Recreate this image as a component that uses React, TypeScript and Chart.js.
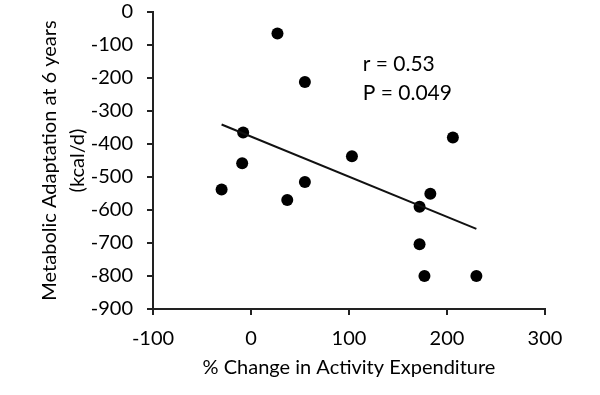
import React, { useEffect, useRef } from "react";
import { Chart, registerables } from "chart.js";

Chart.register(...registerables);

// Scatter data: % change in activity expenditure vs metabolic adaptation (kcal/d)
const pointsX = [27, 55, -8, -9, -30, 37, 55, 103, 206, 183, 172, 172, 177, 230];
const pointsY = [-65, -212, -365, -458, -538, -570, -515, -437, -380, -551, -590, -704, -800, -800];

// Regression line endpoints
const trendX = [-30, 230];
const trendY = [-341, -657];

// Axis ranges / ticks
const xTicks = [-100, 0, 100, 200, 300];
const yTicks = [0, -100, -200, -300, -400, -500, -600, -700, -800, -900];

// Annotation text
const annLabels = ["r = 0.53", "P = 0.049"];
const annX = [114, 114];
const annY = [-157, -245];

const xTitle = "% Change in Activity Expenditure";
const yTitle = ["Metabolic Adaptation at 6 years", "(kcal/d)"];

const FONT = "Lato, 'Open Sans', sans-serif";
const TEXT = "#000";

const annotationPlugin = {
  id: "annot",
  afterDatasetsDraw(chart: any) {
    const { ctx, scales } = chart;
    const x = scales.x;
    const y = scales.y;
    ctx.save();
    ctx.font = `21px ${FONT}`;
    ctx.fillStyle = TEXT;
    ctx.textAlign = "left";
    ctx.textBaseline = "middle";
    annLabels.forEach((t, i) => {
      ctx.fillText(t, x.getPixelForValue(annX[i]), y.getPixelForValue(annY[i]));
    });
    ctx.restore();
  },
};

export default function App() {
  const ref = useRef<HTMLCanvasElement | null>(null);

  useEffect(() => {
    if (!ref.current) return;
    const chart = new Chart(ref.current, {
      type: "scatter",
      data: {
        datasets: [
          {
            type: "line",
            data: trendX.map((v, i) => ({ x: v, y: trendY[i] })),
            borderColor: "#111",
            borderWidth: 2,
            pointRadius: 0,
            fill: false,
          } as any,
          {
            data: pointsX.map((v, i) => ({ x: v, y: pointsY[i] })),
            backgroundColor: "#000",
            borderColor: "#000",
            pointRadius: 6,
            borderWidth: 0,
          },
        ],
      },
      options: {
        animation: false,
        responsive: false,
        layout: { padding: { top: 0, right: 55, left: 0, bottom: 0 } },
        plugins: {
          legend: { display: false },
          tooltip: { enabled: false },
        },
        scales: {
          x: {
            type: "linear",
            min: -100,
            max: 300,
            afterFit: (s: any) => {
              s.height = 86;
            },
            afterBuildTicks: (s: any) => {
              s.ticks = xTicks.map((v) => ({ value: v }));
            },
            ticks: {
              color: TEXT,
              font: { family: FONT, size: 20 },
              padding: 12,
            },
            grid: {
              drawOnChartArea: false,
              drawTicks: true,
              tickLength: 6,
              color: "#222",
              lineWidth: 2,
            },
            border: { display: true, color: "#222", width: 2 },
            title: {
              display: true,
              text: xTitle,
              color: TEXT,
              font: { family: FONT, size: 20 },
              padding: { top: 0, bottom: 15 },
            },
          },
          y: {
            type: "linear",
            min: -900,
            max: 0,
            afterFit: (s: any) => {
              s.width = 153;
              s.paddingTop = 12;
              s.paddingBottom = 0;
            },
            afterBuildTicks: (s: any) => {
              s.ticks = yTicks.map((v) => ({ value: v }));
            },
            ticks: {
              color: TEXT,
              font: { family: FONT, size: 20 },
              padding: 14,
            },
            grid: {
              drawOnChartArea: false,
              drawTicks: true,
              tickLength: 6,
              color: "#222",
              lineWidth: 2,
            },
            border: { display: true, color: "#222", width: 2 },
            title: {
              display: true,
              text: yTitle,
              color: TEXT,
              font: { family: FONT, size: 20, lineHeight: 1.4 },
              padding: { top: 36, bottom: 0 },
            },
          },
        },
      },
      plugins: [annotationPlugin],
    });
    return () => chart.destroy();
  }, []);

  return (
    <div style={{ position: "fixed", left: 0, top: 0, width: 600, height: 395, background: "#fff" }}>
      <canvas ref={ref} width={600} height={395} style={{ display: "block" }} />
    </div>
  );
}
